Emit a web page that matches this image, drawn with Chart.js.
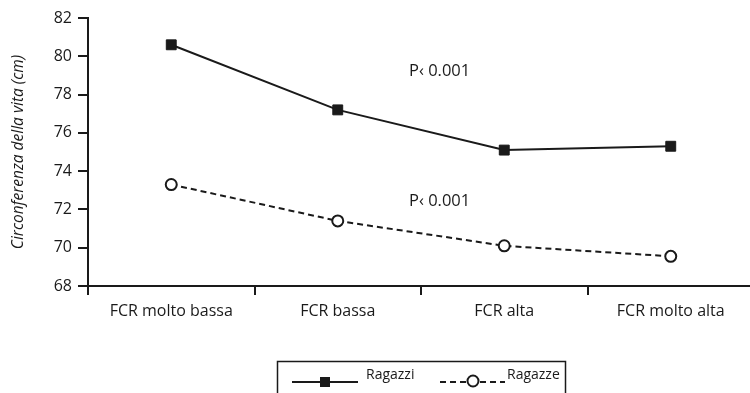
<!DOCTYPE html>
<html>
<head>
<meta charset="utf-8">
<script src="https://cdn.jsdelivr.net/npm/chart.js@4/dist/chart.umd.min.js"></script>
<style>
  html, body { margin: 0; padding: 0; background: #fff; overflow: hidden; }
  #wrap { width: 762px; height: 393px; }
</style>
</head>
<body>
<div id="wrap"><canvas id="grafico"></canvas></div>
<script>
const categorie = ['FCR molto bassa', 'FCR bassa', 'FCR alta', 'FCR molto alta'];
const ragazzi = [80.6, 77.2, 75.1, 75.3];
const ragazze = [73.3, 71.4, 70.1, 69.55];
const yMin = 68;
const yMax = 82;
const yStep = 2;
const titoloY = 'Circonferenza della vita (cm)';
const notaP = 'P\u2039 0.001';

const FONT = "'Open Sans', 'Noto Sans', sans-serif";
const INK = '#1a1a1a';

// testi P e legenda disegnati sopra il grafico
const extraPlugin = {
  id: 'extra',
  afterDraw(chart) {
    const ctx = chart.ctx;
    const x = chart.scales.x;
    const y = chart.scales.y;
    ctx.save();
    ctx.fillStyle = INK;
    ctx.font = '16.5px ' + FONT;
    ctx.textBaseline = 'middle';
    ctx.textAlign = 'left';
    const px = (x.getPixelForValue(1) + x.getPixelForValue(2)) / 2 - 12;
    ctx.fillText(notaP, px, y.getPixelForValue(79.2));
    ctx.fillText(notaP, px, y.getPixelForValue(72.4));

    // riquadro legenda
    ctx.strokeStyle = INK;
    ctx.lineWidth = 1.5;
    ctx.strokeRect(277.5, 361.5, 288, 40);
    ctx.lineWidth = 2;
    const ly = 382;
    ctx.beginPath();
    ctx.moveTo(292, ly);
    ctx.lineTo(358, ly);
    ctx.stroke();
    ctx.fillRect(320, ly - 5, 10, 10);
    ctx.setLineDash([6, 4]);
    ctx.beginPath();
    ctx.moveTo(440, ly);
    ctx.lineTo(505, ly);
    ctx.stroke();
    ctx.setLineDash([]);
    ctx.beginPath();
    ctx.arc(473, ly - 1, 5.5, 0, Math.PI * 2);
    ctx.fillStyle = '#fff';
    ctx.fill();
    ctx.stroke();
    ctx.fillStyle = INK;
    ctx.font = '14px ' + FONT;
    ctx.fillText('Ragazzi', 366, 375);
    ctx.fillText('Ragazze', 507, 375);
    ctx.restore();
  }
};

new Chart(document.getElementById('grafico'), {
  type: 'line',
  data: {
    labels: categorie,
    datasets: [
      {
        label: 'Ragazzi',
        data: ragazzi,
        borderColor: INK,
        backgroundColor: INK,
        borderWidth: 2,
        pointStyle: 'rect',
        pointRadius: 7,
        pointBorderWidth: 1,
        tension: 0
      },
      {
        label: 'Ragazze',
        data: ragazze,
        borderColor: INK,
        backgroundColor: '#fff',
        borderWidth: 2,
        borderDash: [6, 4],
        pointStyle: 'circle',
        pointRadius: 5.5,
        pointBorderWidth: 2,
        tension: 0
      }
    ]
  },
  options: {
    responsive: true,
    maintainAspectRatio: false,
    animation: false,
    layout: { padding: { top: 18, right: 0, bottom: 0, left: 0 } },
    plugins: {
      legend: { display: false },
      tooltip: { enabled: false }
    },
    scales: {
      x: {
        type: 'category',
        offset: true,
        afterFit(scale) { scale.height = 107; },
        grid: {
          offset: true,
          drawOnChartArea: false,
          drawTicks: true,
          tickLength: 9,
          color: INK,
          lineWidth: 2
        },
        border: { display: true, color: INK, width: 2 },
        ticks: {
          color: INK,
          font: { family: FONT, size: 16 },
          padding: 7,
          maxRotation: 0,
          autoSkip: false
        }
      },
      y: {
        min: yMin,
        max: yMax,
        afterFit(scale) { scale.width = 88; },
        grid: {
          drawOnChartArea: false,
          drawTicks: true,
          tickLength: 10,
          color: INK,
          lineWidth: 2
        },
        border: { display: true, color: INK, width: 2 },
        ticks: {
          stepSize: yStep,
          color: INK,
          font: { family: FONT, size: 16 },
          padding: 6
        },
        title: {
          display: true,
          text: titoloY,
          color: INK,
          font: { family: FONT, size: 15.5, style: 'italic' },
          padding: { top: 9, bottom: 0 }
        }
      }
    }
  },
  plugins: [extraPlugin]
});
</script>
</body>
</html>
